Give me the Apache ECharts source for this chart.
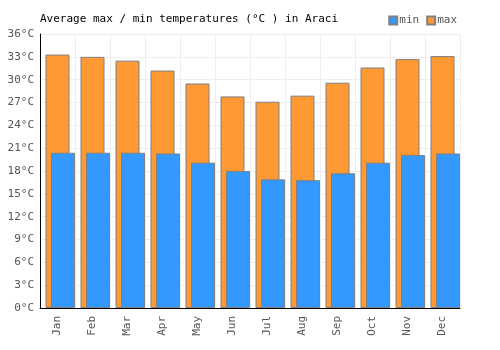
<!DOCTYPE html>
<html>
<head>
<meta charset="utf-8">
<script src="https://cdn.jsdelivr.net/npm/echarts@6/dist/echarts.min.js"></script>
<style>
  html, body { margin: 0; padding: 0; background: #fff; }
  #chart { width: 500px; height: 350px; }
</style>
</head>
<body>
<div id="chart"></div>
<script>
const months = ['Jan', 'Feb', 'Mar', 'Apr', 'May', 'Jun', 'Jul', 'Aug', 'Sep', 'Oct', 'Nov', 'Dec']
const minTemps = [20.4, 20.4, 20.4, 20.3, 19.1, 18.0, 16.9, 16.8, 17.7, 19.1, 20.1, 20.3]
const maxTemps = [33.3, 33.0, 32.5, 31.2, 29.5, 27.8, 27.1, 27.9, 29.6, 31.6, 32.7, 33.1]

const font = 'DejaVu Sans Mono'
const chart = echarts.init(document.getElementById('chart'))

// an empty spacer series pushes the two real bars right of centre like the original
chart.setOption({
  animation: false,
  backgroundColor: '#fff',
  textStyle: { fontFamily: font },
  title: {
    text: 'Average max / min temperatures (°C ) in Araci',
    left: 35,
    top: 9,
    textStyle: { fontFamily: font, fontSize: 11, fontWeight: 'normal', color: '#000' }
  },
  legend: {
    data: ['min', 'max'],
    icon: 'rect',
    right: 38,
    top: 10,
    itemWidth: 8,
    itemHeight: 8,
    itemGap: 7,
    textStyle: { fontFamily: font, fontSize: 11, color: '#555', padding: [0, 0, 0, -3] }
  },
  grid: { left: 40, right: 40, top: 34, bottom: 42 },
  xAxis: {
    type: 'category',
    data: months,
    axisLine: { lineStyle: { color: '#000', width: 1 } },
    axisTick: { show: false },
    axisLabel: { rotate: 90, color: '#555', fontFamily: font, fontSize: 11, margin: 8 },
    splitLine: { show: true, lineStyle: { color: '#eee' } }
  },
  yAxis: {
    type: 'value',
    min: 0,
    max: 36,
    interval: 3,
    axisLine: { show: true, lineStyle: { color: '#000', width: 1 } },
    axisTick: { show: false },
    axisLabel: { color: '#555', fontFamily: font, fontSize: 11, margin: 6, formatter: '{value}°C' },
    splitLine: { lineStyle: { color: '#eee' } }
  },
  series: [
    {
      name: 'spacer',
      type: 'bar',
      barWidth: 24,
      barGap: '-77%',
      data: []
    },
    {
      name: 'max',
      type: 'bar',
      barWidth: 24,
      barGap: '-77%',
      itemStyle: { color: '#ff9933', borderColor: '#808080', borderWidth: 1, borderRadius: 0 },
      data: maxTemps
    },
    {
      name: 'min',
      type: 'bar',
      barWidth: 24,
      barGap: '-77%',
      itemStyle: { color: '#3399ff', borderColor: '#808080', borderWidth: 1, borderRadius: 0 },
      data: minTemps
    }
  ]
})
</script>
</body>
</html>
